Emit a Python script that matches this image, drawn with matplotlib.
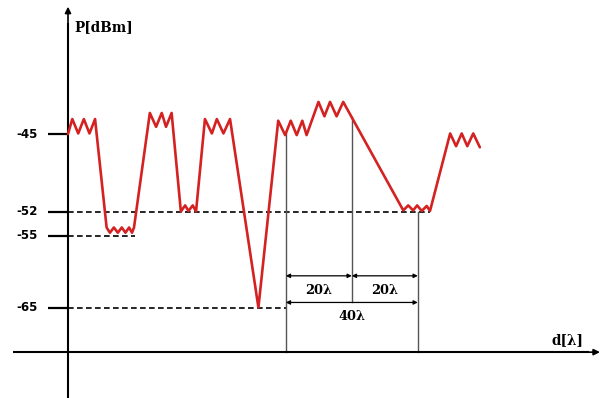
import numpy as np
import matplotlib
matplotlib.use("Agg")
import matplotlib.pyplot as plt

# Received power profile P (dBm) versus distance d (in wavelengths)
d_lambda = [0, 1.3, 3.1, 4.8, 6.5, 8.2,
            11.7, 12.7, 13.9, 15.1, 16.3, 17.4, 18.5, 19.4, 20.0,
            24.8, 26.7, 28.4, 29.7, 31.4,
            34.2, 35.5, 36.5, 37.8, 38.8,
            41.5, 43.6, 45.1, 47.1, 49.1,
            57.7,
            63.7, 65.8, 67.5, 69.3, 71.0, 72.3,
            75.9, 77.7, 79.4, 81.4, 83.4,
            101.6, 103.1, 104.6, 105.8, 107.2, 108.7, 109.7,
            115.8, 117.6, 119.3, 121.0, 122.8, 124.8]
p_dbm = [-45.0, -43.65, -44.95, -43.65, -44.95, -43.65,
         -54.0, -54.65, -54.0, -54.65, -54.0, -54.65, -54.0, -54.65, -54.0,
         -43.1, -44.35, -43.1, -44.35, -43.1,
         -52.0, -51.45, -51.95, -51.45, -52.0,
         -43.65, -44.95, -43.65, -44.95, -43.65,
         -65.0,
         -43.8, -45.1, -43.8, -45.1, -43.8, -45.1,
         -42.1, -43.4, -42.1, -43.4, -42.1,
         -51.9, -51.45, -51.9, -51.45, -51.95, -51.5, -51.95,
         -44.95, -46.1, -44.95, -46.1, -44.95, -46.2]

# Marked power levels and how far each dashed guide runs
level_values = [-45, -52, -55, -65]
level_labels = ["-45", "-52", "-55", "-65"]
guide_levels = [-52, -55, -65]
guide_ends = [109.7, 20.4, 66.0]

# Distance markers for the 20λ / 40λ dimensions
d_start, d_mid, d_end = 66.0, 86.0, 106.0

# Schematic (non-uniform) power axis: piecewise-linear display scale
scale_dbm = np.array([-85.0, -65.0, -55.0, -52.0, -45.0, -25.0])
scale_pos = np.array([-53.5, 90.5, 162.5, 186.5, 264.0, 485.4])


def fwd(v):
    return np.interp(v, scale_dbm, scale_pos)


def inv(v):
    return np.interp(v, scale_pos, scale_dbm)


fig = plt.figure(figsize=(6.03, 3.98), dpi=100)
ax = fig.add_axes([0, 0, 1, 1])
ax.set_yscale("function", functions=(fwd, inv))
ax.set_xlim(-68 / 3.3, (603 - 68) / 3.3)
ax.set_ylim(inv(0.0), inv(398.0))
ax.axis("off")

red = "#d42222"
axis_y = -71.2   # level of the distance axis
y_top = -33.5    # tip of the power axis

# Axes with arrow heads
ax.plot([-16.7, 158.0], [axis_y, axis_y], color="black", lw=1.5,
        solid_capstyle="butt", zorder=3)
ax.annotate("", xy=(161.2, axis_y), xytext=(155.0, axis_y),
            arrowprops=dict(arrowstyle="-|>", color="black", lw=1.2,
                            mutation_scale=9, shrinkA=0, shrinkB=0))
ax.plot([0, 0], [inv(0.0), -35.0], color="black", lw=1.5,
        solid_capstyle="butt", zorder=3)
ax.annotate("", xy=(0, y_top), xytext=(0, -36.0),
            arrowprops=dict(arrowstyle="-|>", color="black", lw=1.2,
                            mutation_scale=9, shrinkA=0, shrinkB=0))

# Tick marks and level labels
for val, lab in zip(level_values, level_labels):
    ax.plot([-6.1, 0], [val, val], color="black", lw=1.6,
            solid_capstyle="butt")
    ax.text(-9.2, val, lab, ha="right", va="center", fontsize=8.6,
            fontweight="bold", family="DejaVu Sans")

# Dashed guide lines
for val, end in zip(guide_levels, guide_ends):
    ax.plot([0, end], [val, val], color="black", lw=1.2,
            dashes=(3.4, 2.0))

# Vertical reference lines
top_start = np.interp(d_start, d_lambda, p_dbm)
top_mid = np.interp(d_mid, d_lambda, p_dbm)
arrow20_y = -60.6
arrow40_y = -64.3
ax.plot([d_start, d_start], [top_start, axis_y], color="#555555", lw=1.0)
ax.plot([d_mid, d_mid], [top_mid, arrow40_y], color="#555555", lw=1.0)
ax.plot([d_end, d_end], [-52, axis_y], color="#555555", lw=1.0)

# Power curve
ax.plot(d_lambda, p_dbm, color=red, lw=1.9, solid_joinstyle="round",
        solid_capstyle="round", zorder=4)

# Dimension arrows
dim_style = dict(arrowstyle="<|-|>", color="black", lw=0.9,
                 mutation_scale=6, shrinkA=0, shrinkB=0)
ax.annotate("", xy=(d_start, arrow20_y), xytext=(d_mid, arrow20_y),
            arrowprops=dim_style)
ax.annotate("", xy=(d_mid, arrow20_y), xytext=(d_end, arrow20_y),
            arrowprops=dim_style)
ax.annotate("", xy=(d_start, arrow40_y), xytext=(d_end, arrow40_y),
            arrowprops=dim_style)

serif = dict(family="DejaVu Serif", fontweight="bold")
ax.text((d_start + d_mid) / 2, -62.7, f"{d_mid - d_start:.0f}λ",
        ha="center", va="center", fontsize=9.3, **serif)
ax.text((d_mid + d_end) / 2, -62.7, f"{d_end - d_mid:.0f}λ",
        ha="center", va="center", fontsize=9.3, **serif)
ax.text((d_start + d_end) / 2, -66.3, f"{d_end - d_start:.0f}λ",
        ha="center", va="center", fontsize=9.3, **serif)

# Axis titles
ax.text(1.8, -35.3, "P[dBm]", ha="left", va="center", fontsize=9.8, **serif)
ax.text(151.5, -69.5, "d[λ]", ha="center", va="center", fontsize=9.8,
        **serif)

fig.savefig("out.png", dpi=100)
